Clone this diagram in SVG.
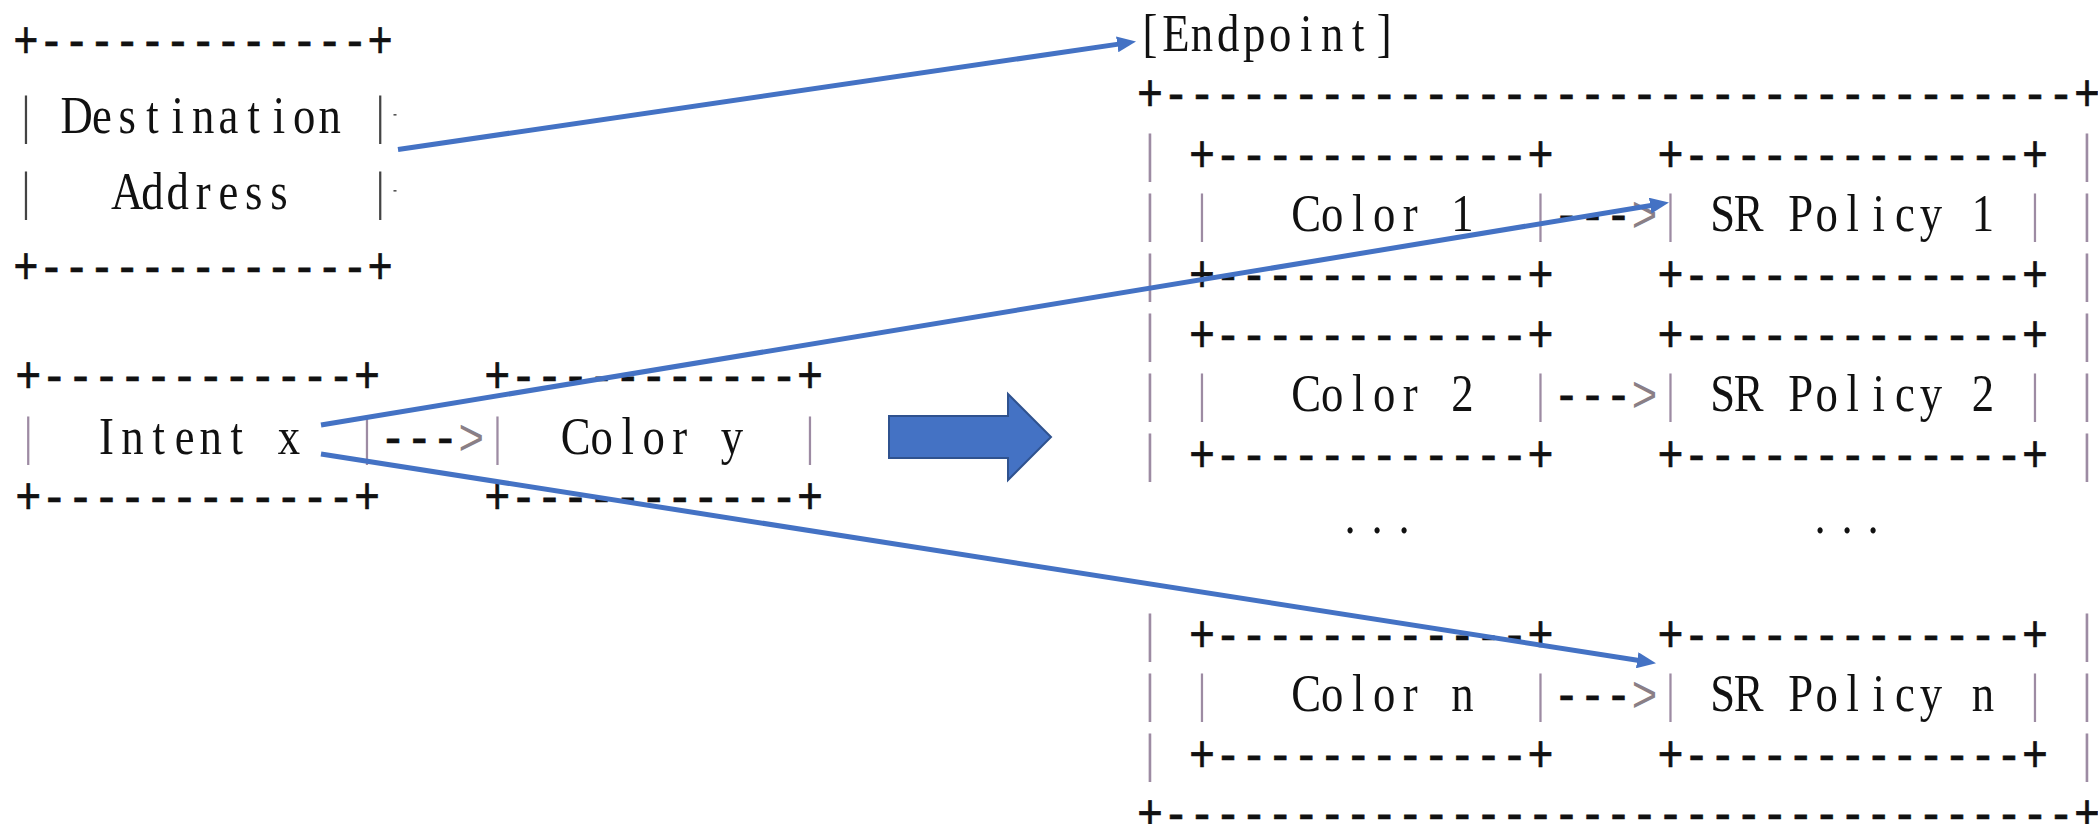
<svg xmlns="http://www.w3.org/2000/svg" width="2098" height="824" viewBox="0 0 2098 824" xml:space="preserve">
<style>
text{white-space:pre}
.w{font-family:"Liberation Serif","Times New Roman",serif;font-size:52px;fill:#111;text-anchor:middle}
.b{font-family:"Liberation Mono","Courier New",monospace;font-size:52px;fill:#111;stroke:#111;stroke-width:0.7}
.bar{fill:#9d8ba3}
.bard{fill:#444}
.gt{fill:#8a7f86;stroke:none}
.conn{stroke:#4472C4;stroke-width:5;fill:none;marker-end:url(#ah)}
</style>
<defs>
<marker id="ah" markerUnits="userSpaceOnUse" markerWidth="19" markerHeight="16" viewBox="0 0 19 16" refX="10" refY="8" orient="auto"><path d="M0,0 L19,8 L0,16 z" fill="#4472C4"/></marker>
</defs>
<rect width="2098" height="824" fill="#fff"/>

<g id="destination-address">
<text class="b" x="13.35" y="58.1" textLength="379.5" lengthAdjust="spacingAndGlyphs">+-------------+</text>
<text class="w" transform="scale(0.86,1)" x="30.23 59.65 89.07 118.49 147.91 177.33 206.74 236.16 265.58 295 324.42 353.84 383.26 412.67 442.09" y="133.2"><tspan class="bard">|</tspan> Destination <tspan class="bard">|</tspan></text>
<text class="w" transform="scale(0.86,1)" x="30.23 59.65 89.07 118.49 147.91 177.33 206.74 236.16 265.58 295 324.42 353.84 383.26 412.67 442.09" y="209.2"><tspan class="bard">|</tspan>   Address   <tspan class="bard">|</tspan></text>
<text class="b" x="13.35" y="283.6" textLength="379.5" lengthAdjust="spacingAndGlyphs">+-------------+</text>
<rect x="393.5" y="114" width="3" height="1.6" fill="#555"/>
<rect x="393.5" y="190" width="3" height="1.6" fill="#555"/>
</g>

<g id="intent-x">
<text class="b" x="15.27" y="393.1" textLength="364.84" lengthAdjust="spacingAndGlyphs">+------------+</text>
<text class="w" transform="scale(0.86,1)" x="32.91 63.21 93.51 123.81 154.12 184.42 214.72 245.02 275.33 305.63 335.93 366.23 396.53 426.84" y="454.2"><tspan class="bar">|</tspan>  Intent x  <tspan class="bar">|</tspan></text>
<text class="b" x="15.27" y="513.6" textLength="364.84" lengthAdjust="spacingAndGlyphs">+------------+</text>
</g>

<g id="color-y">
<text class="b" x="484.35" y="393.1" textLength="338.78" lengthAdjust="spacingAndGlyphs">+-----------+</text>
<text class="w" transform="scale(0.86,1)" x="578.35 608.65 638.95 669.26 699.56 729.86 760.16 790.47 820.77 851.07 881.37 911.67 941.98" y="454.2"><tspan class="bar">|</tspan>  Color y  <tspan class="bar">|</tspan></text>
<text class="b" x="484.35" y="513.6" textLength="338.78" lengthAdjust="spacingAndGlyphs">+-----------+</text>
</g>

<g id="block-arrow">
<polygon points="889,416 1008,416 1008,394 1051,437 1008,480 1008,458 889,458" fill="#4472C4" stroke="#2F528F" stroke-width="2" stroke-linejoin="miter"/>
</g>

<g id="endpoint">
<text class="w" transform="scale(0.86,1)" x="1337.21 1367.48 1397.74 1428.01 1458.28 1488.55 1518.81 1549.08 1579.35 1609.62" y="51.5">[Endpoint]</text>
<text class="b" x="1137" y="110.6" textLength="963.11" lengthAdjust="spacingAndGlyphs">+-----------------------------------+</text>
<text class="w bar"><tspan x="1150" y="170.7">|</tspan><tspan x="1150" y="230.7">|</tspan><tspan x="1150" y="290.7">|</tspan><tspan x="1150" y="350.7">|</tspan><tspan x="1150" y="410.7">|</tspan><tspan x="1150" y="470.7">|</tspan><tspan x="1150" y="650.7">|</tspan><tspan x="1150" y="710.7">|</tspan><tspan x="1150" y="770.7">|</tspan></text>
<text class="w bar"><tspan x="2087" y="170.7">|</tspan><tspan x="2087" y="230.7">|</tspan><tspan x="2087" y="290.7">|</tspan><tspan x="2087" y="350.7">|</tspan><tspan x="2087" y="410.7">|</tspan><tspan x="2087" y="470.7">|</tspan><tspan x="2087" y="650.7">|</tspan><tspan x="2087" y="710.7">|</tspan><tspan x="2087" y="770.7">|</tspan></text>
<text class="w" transform="scale(0.86,1)" x="1569.77 1601.16 1632.56" y="533">...</text>
<text class="w" transform="scale(0.86,1)" x="2116.28 2147.67 2177.91" y="533">...</text>
<text class="b" x="1137" y="830.6" textLength="963.11" lengthAdjust="spacingAndGlyphs">+-----------------------------------+</text>
</g>

<g id="color-1">
<text class="b" x="1189.06" y="171.6" textLength="364.42" lengthAdjust="spacingAndGlyphs">+------------+</text>
<text class="w" transform="scale(0.86,1)" x="1397.74 1428.01 1458.28 1488.55 1518.81 1549.08 1579.35 1609.62 1639.88 1670.15 1700.42 1730.69 1760.95 1791.22" y="230.7"><tspan class="bar">|</tspan>   Color 1  <tspan class="bar">|</tspan></text>
<text class="b" x="1189.06" y="291.6" textLength="364.42" lengthAdjust="spacingAndGlyphs">+------------+</text>
</g>
<g id="sr-policy-1">
<text class="b" x="1657.6" y="171.6" textLength="390.45" lengthAdjust="spacingAndGlyphs">+-------------+</text>
<text class="w" transform="scale(0.86,1)" x="1942.56 1972.83 2003.09 2033.36 2063.63 2093.9 2124.16 2154.43 2184.7 2214.97 2245.23 2275.5 2305.77 2336.03 2366.3" y="230.7"><tspan class="bar">|</tspan> SR Policy 1 <tspan class="bar">|</tspan></text>
<text class="b" x="1657.6" y="291.6" textLength="390.45" lengthAdjust="spacingAndGlyphs">+-------------+</text>
</g>

<g id="color-2">
<text class="b" x="1189.06" y="351.6" textLength="364.42" lengthAdjust="spacingAndGlyphs">+------------+</text>
<text class="w" transform="scale(0.86,1)" x="1397.74 1428.01 1458.28 1488.55 1518.81 1549.08 1579.35 1609.62 1639.88 1670.15 1700.42 1730.69 1760.95 1791.22" y="410.7"><tspan class="bar">|</tspan>   Color 2  <tspan class="bar">|</tspan></text>
<text class="b" x="1189.06" y="471.6" textLength="364.42" lengthAdjust="spacingAndGlyphs">+------------+</text>
</g>
<g id="sr-policy-2">
<text class="b" x="1657.6" y="351.6" textLength="390.45" lengthAdjust="spacingAndGlyphs">+-------------+</text>
<text class="w" transform="scale(0.86,1)" x="1942.56 1972.83 2003.09 2033.36 2063.63 2093.9 2124.16 2154.43 2184.7 2214.97 2245.23 2275.5 2305.77 2336.03 2366.3" y="410.7"><tspan class="bar">|</tspan> SR Policy 2 <tspan class="bar">|</tspan></text>
<text class="b" x="1657.6" y="471.6" textLength="390.45" lengthAdjust="spacingAndGlyphs">+-------------+</text>
</g>

<g id="color-n">
<text class="b" x="1189.06" y="651.6" textLength="364.42" lengthAdjust="spacingAndGlyphs">+------------+</text>
<text class="w" transform="scale(0.86,1)" x="1397.74 1428.01 1458.28 1488.55 1518.81 1549.08 1579.35 1609.62 1639.88 1670.15 1700.42 1730.69 1760.95 1791.22" y="710.7"><tspan class="bar">|</tspan>   Color n  <tspan class="bar">|</tspan></text>
<text class="b" x="1189.06" y="771.6" textLength="364.42" lengthAdjust="spacingAndGlyphs">+------------+</text>
</g>
<g id="sr-policy-n">
<text class="b" x="1657.6" y="651.6" textLength="390.45" lengthAdjust="spacingAndGlyphs">+-------------+</text>
<text class="w" transform="scale(0.86,1)" x="1942.56 1972.83 2003.09 2033.36 2063.63 2093.9 2124.16 2154.43 2184.7 2214.97 2245.23 2275.5 2305.77 2336.03 2366.3" y="710.7"><tspan class="bar">|</tspan> SR Policy n <tspan class="bar">|</tspan></text>
<text class="b" x="1657.6" y="771.6" textLength="390.45" lengthAdjust="spacingAndGlyphs">+-------------+</text>
</g>

<g id="connectors">
<text class="b" x="380.1" y="455.1" textLength="104.24" lengthAdjust="spacingAndGlyphs">---<tspan class="gt">&gt;</tspan></text>
<text class="b" x="1553.48" y="231.6" textLength="104.12" lengthAdjust="spacingAndGlyphs">---<tspan class="gt">&gt;</tspan></text>
<text class="b" x="1553.48" y="411.6" textLength="104.12" lengthAdjust="spacingAndGlyphs">---<tspan class="gt">&gt;</tspan></text>
<text class="b" x="1553.48" y="711.6" textLength="104.12" lengthAdjust="spacingAndGlyphs">---<tspan class="gt">&gt;</tspan></text>
<line class="conn" x1="398" y1="149.5" x2="1127.1" y2="42.86"/>
<line class="conn" x1="321" y1="425" x2="1660.1" y2="204"/>
<line class="conn" x1="321" y1="454" x2="1647.1" y2="661.8"/>
</g>
</svg>
